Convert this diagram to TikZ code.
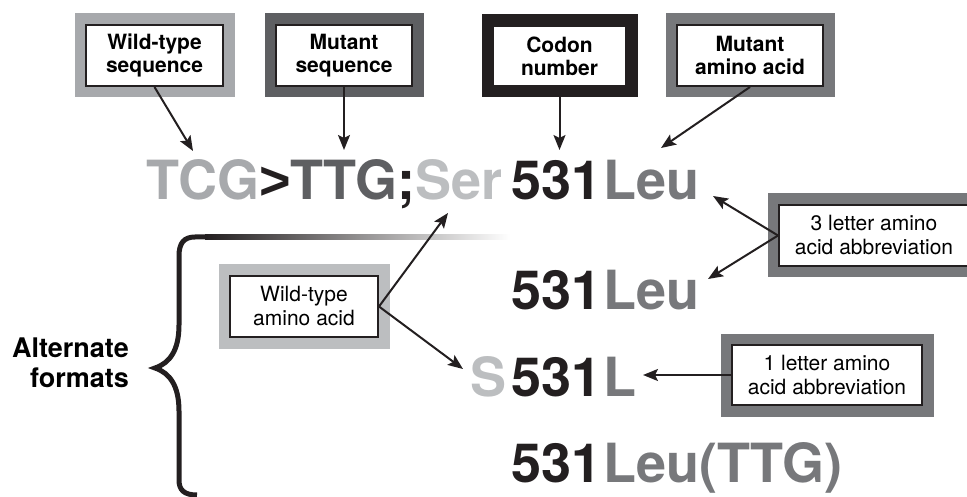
\documentclass[tikz,border=0pt]{standalone}
\usepackage{fontspec}
\setmainfont{TeX Gyre Heros}
\newfontfamily\gtfont{Liberation Sans}
\usetikzlibrary{arrows.meta}
\definecolor{cA}{HTML}{A7A9AC}
\definecolor{cB}{HTML}{5E5F62}
\definecolor{cK}{HTML}{231F20}
\definecolor{cC}{HTML}{BCBEC0}
\definecolor{cD}{HTML}{77787B}
\tikzset{
  lbl/.style={draw=cK, line width=2pt, fill=white, align=center, inner sep=0pt,
    preaction={draw=#1, line width=23pt}},
  hd/.style={font=\bfseries\fontsize{21}{23}\selectfont},
  rg/.style={font=\fontsize{21}{24}\selectfont},
  arr/.style={draw=cK, line width=2pt, -{Stealth[length=15pt,width=12pt,inset=3pt]}},
  big/.style={font=\bfseries\fontsize{54}{60}\selectfont, inner sep=0pt, anchor=base west},
}
\begin{document}
\begin{tikzpicture}[x=1pt,y=-1pt]
\useasboundingbox (0,0) rectangle (967,497);
\clip (0,0) rectangle (967,497);

% top label boxes
\node[lbl=cA, hd, minimum width=137pt, minimum height=61pt] (wts) at (154.5,55.5) {Wild-type\\sequence};
\node[lbl=cB, hd, minimum width=136pt, minimum height=61pt] (mts) at (344,55.5) {Mutant\\sequence};
\node[lbl=cK, hd, minimum width=133pt, minimum height=60pt] (cod) at (559.5,56) {Codon\\number};
\node[lbl=cD, hd, minimum width=146pt, minimum height=61pt] (maa) at (750,55.5) {Mutant\\amino acid};

% side label boxes
\node[lbl=cC, rg, minimum width=148pt, minimum height=61pt] (waa) at (304,306.5) {Wild-type\\amino acid};
\node[lbl=cD, rg, minimum width=190pt, minimum height=61pt] (tla) at (874,235.5) {3 letter amino\\acid abbreviation};
\node[lbl=cD, rg, minimum width=190pt, minimum height=60pt] (ola) at (827,375) {1 letter amino\\acid abbreviation};

% notation rows
\node[big] (seq) at (146,200) {\color{cA}TCG\color{cK}{\gtfont >}\color{cB}TTG\color{cK};\color{cC}Ser};
\node[big, text=cK] (n1) at (511,200) {531};
\node[big, text=cD] (l1) at (603,200) {Leu};
\node[big, text=cK] (n2) at (511,309) {531};
\node[big, text=cD] (l2) at (603,309) {Leu};
\node[big, text=cC] (s3) at (470.5,396) {S};
\node[big, text=cK] (n3) at (511,396) {531};
\node[big, text=cD] (l3) at (603,396) {L};
\node[big, text=cK] (n4) at (511,482) {531};
\node[big, text=cD] (l4) at (603,482) {Leu(TTG)};

% brace and fading rule
\shade[left color=cK, right color=white] (205,234.5) rectangle (510,239.5);
\draw[cK, line width=5pt]
  (207,237) -- (195,237) .. controls (184,237) and (179,243) .. (179,256)
  -- (179,325) .. controls (179,350) and (170,363) .. (155,368)
  .. controls (170,373) and (179,386) .. (179,411)
  -- (179,480) .. controls (179,490) and (184,495) .. (197,495);
\node[font=\bfseries\fontsize{27}{30}\selectfont, align=right, anchor=base east, inner sep=0pt] (alt) at (129,387) {Alternate\\formats};

% arrow targets
\coordinate (t1) at (193,151);
\coordinate (t2) at (344,150);
\coordinate (t3) at (559.5,150);
\coordinate (t4) at (661,148);
\coordinate (t5) at (713,196);
\coordinate (t6) at (708,279);
\coordinate (t7) at (448,213);
\coordinate (t8) at (463,369);
\coordinate (t9) at (643,375);

\draw[arr] (wts.south) -- (t1);
\draw[arr] (mts.south) -- (t2);
\draw[arr] (cod.south) -- (t3);
\draw[arr] (maa.south) -- (t4);
\draw[arr] (tla.west) -- (t5);
\draw[arr] (tla.west) -- (t6);
\draw[arr] (waa.east) -- (t7);
\draw[arr] (waa.east) -- (t8);
\draw[arr] (ola.west) -- (t9);
\end{tikzpicture}
\end{document}
